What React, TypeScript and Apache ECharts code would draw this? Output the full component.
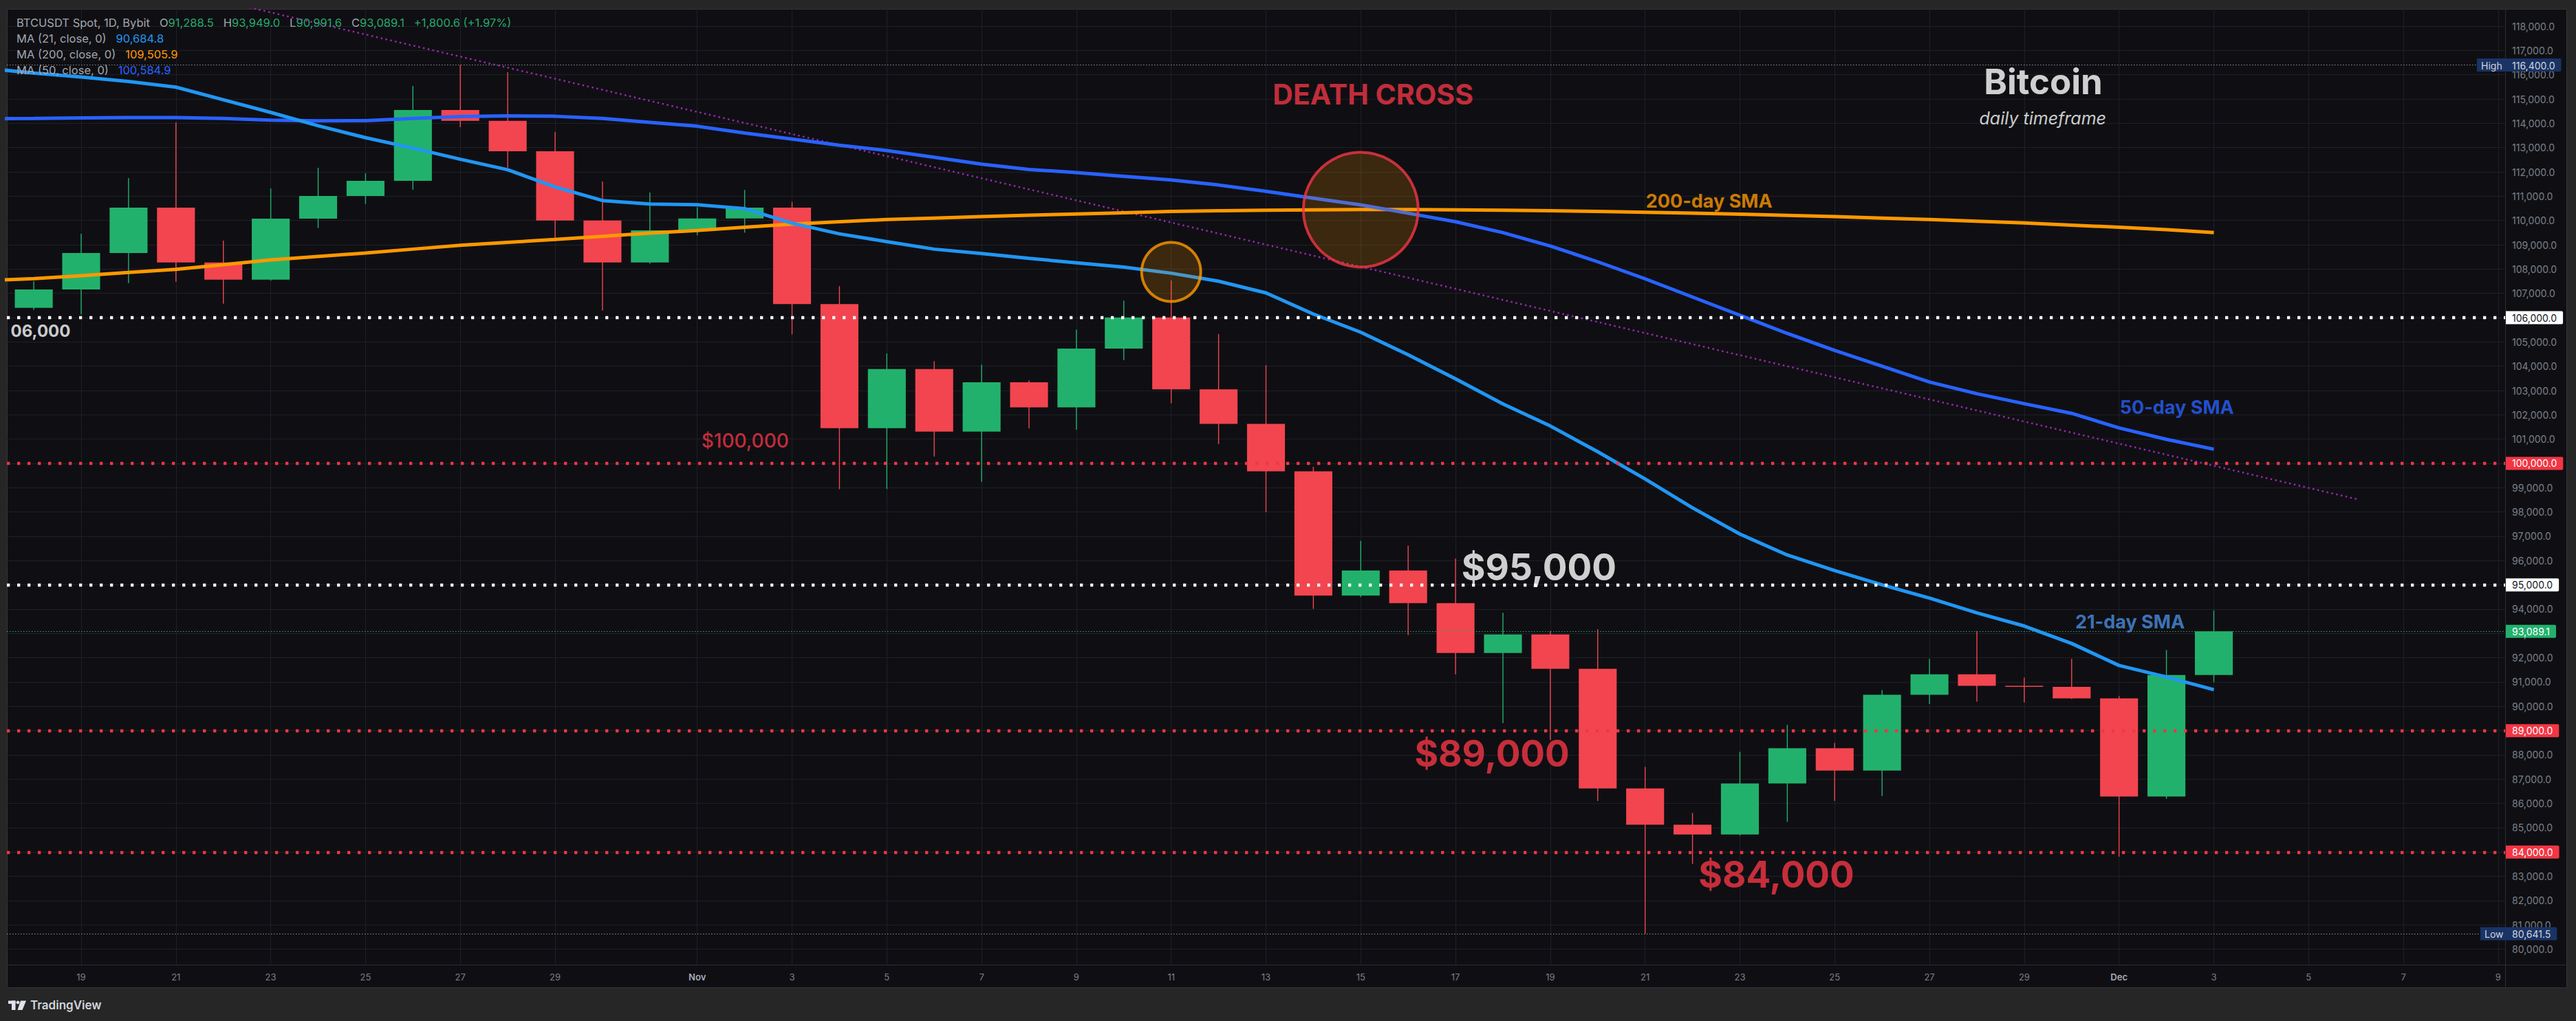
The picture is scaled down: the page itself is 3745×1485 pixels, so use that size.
import React, { useEffect, useRef } from 'react';
import * as echarts from 'echarts';

// ---------- data ----------
const dates = [
  'Oct 18', 'Oct 19', 'Oct 20', 'Oct 21', 'Oct 22', 'Oct 23', 'Oct 24', 'Oct 25', 'Oct 26', 'Oct 27',
  'Oct 28', 'Oct 29', 'Oct 30', 'Oct 31', 'Nov 1', 'Nov 2', 'Nov 3', 'Nov 4', 'Nov 5', 'Nov 6',
  'Nov 7', 'Nov 8', 'Nov 9', 'Nov 10', 'Nov 11', 'Nov 12', 'Nov 13', 'Nov 14', 'Nov 15', 'Nov 16',
  'Nov 17', 'Nov 18', 'Nov 19', 'Nov 20', 'Nov 21', 'Nov 22', 'Nov 23', 'Nov 24', 'Nov 25', 'Nov 26',
  'Nov 27', 'Nov 28', 'Nov 29', 'Nov 30', 'Dec 1', 'Dec 2', 'Dec 3',
];
const opens = [
  106405, 107160, 108660, 110528, 108273, 107566, 110075, 111009, 111631, 114546,
  114102, 112848, 109999, 108273, 109594, 110084, 110529, 106560, 101453, 103882,
  101312, 103340, 102310, 104728, 106007, 103047, 101626, 99675, 94558, 95594,
  94248, 92193, 92961, 91542, 86618, 85124, 84725, 86825, 88274, 87357,
  90477, 91320, 90844, 90803, 90330, 86286, 91288.5,
];
const closes = [
  107160, 108660, 110528, 108273, 107566, 110075, 111009, 111631, 114546, 114102,
  112848, 109999, 108273, 109594, 110084, 110529, 106560, 101453, 103882, 101312,
  103340, 102310, 104728, 106007, 103047, 101626, 99675, 94558, 95594, 94248,
  92193, 92961, 91542, 86618, 85124, 84725, 86825, 88274, 87357, 90477,
  91320, 90844, 90803, 90330, 86286, 91288.5, 93089.1,
];
const lows = [
  106320, 106132, 107424, 107481, 106575, 107519, 109688, 110678, 111263, 113839,
  112169, 109141, 106291, 108220, 109390, 109499, 105313, 98937, 98948, 100282,
  99241, 101442, 101388, 104250, 102472, 100792, 97994, 94011, 94500, 92932,
  91320, 89309, 88614, 86100, 80641.5, 83512, 84680, 85243, 86100, 86307,
  90093, 90194, 90154, 90300, 83811, 86191, 90991.6,
];
const highs = [
  107500, 109452, 111745, 114037, 109169, 111320, 112169, 111943, 115537, 116400,
  116103, 113641, 111603, 111150, 110550, 111255, 110767, 107297, 104532, 104207,
  104066, 103416, 105508, 106701, 107536, 105324, 104044, 99860, 96806, 96614,
  96081, 93849, 93100, 93168, 87505, 85612, 88126, 89235, 88496, 90669,
  91956, 93102, 91182, 91953, 90424, 92318, 93949.0,
];

// moving averages, Oct 17 .. Dec 3 (one day before the first candle)
const maDates = ['Oct 17', ...dates];
const ma21 = [
  116260, 116070, 115910, 115720, 115490, 114970, 114450, 113900, 113410, 112980,
  112520, 112090, 111380, 110820, 110680, 110650, 110490, 109890, 109450, 109130,
  108820, 108640, 108440, 108260, 108080, 107830, 107500, 107020, 106150, 105400,
  104470, 103480, 102450, 101540, 100480, 99360, 98170, 97090, 96230, 95590,
  95000, 94455, 93846, 93305, 92588, 91682, 91209, 90684.8,
];
const ma50 = [
  114190, 114200, 114220, 114240, 114240, 114200, 114130, 114100, 114110, 114200,
  114280, 114310, 114290, 114200, 114040, 113880, 113600, 113350, 113100, 112880,
  112600, 112320, 112100, 111970, 111820, 111670, 111460, 111200, 110920, 110640,
  110300, 109950, 109500, 108950, 108300, 107600, 106850, 106100, 105350, 104650,
  104000, 103350, 102870, 102460, 102060, 101460, 100990, 100584.9,
];
const ma200 = [
  107520, 107610, 107730, 107860, 107990, 108180, 108380, 108520, 108660, 108820,
  108980, 109100, 109220, 109350, 109480, 109590, 109720, 109850, 109950, 110040,
  110100, 110160, 110220, 110270, 110320, 110370, 110400, 110420, 110440, 110450,
  110450, 110440, 110420, 110400, 110370, 110340, 110300, 110260, 110210, 110160,
  110100, 110040, 109970, 109900, 109810, 109720, 109620, 109505.9,
];

// falling trend line (day index, price)
const trendDays = [0, 49.02];
const trendPrices = [120843, 98528];

// horizontal levels
const whiteLevels = [106000, 95000];
const redLevels = [100000, 89000, 84000];

// highlighted spots (day index, price)
const crossSpots = [
  [24, 107884],
  [28, 110443],
];

// axis ticks
const xTickDays = [1, 3, 5, 7, 9, 11, 14, 16, 18, 20, 22, 24, 26, 28, 30, 32, 34, 36, 38, 40, 42, 44, 46, 48, 50, 52];
const xTickLabels = ['19', '21', '23', '25', '27', '29', 'Nov', '3', '5', '7', '9', '11', '13', '15', '17', '19', '21', '23', '25', '27', '29', 'Dec', '3', '5', '7', '9'];
const yTicks = [
  80000, 81000, 82000, 83000, 84000, 85000, 86000, 87000, 88000, 89000,
  90000, 91000, 92000, 93000, 94000, 95000, 96000, 97000, 98000, 99000,
  100000, 101000, 102000, 103000, 104000, 105000, 106000, 107000, 108000, 109000,
  110000, 111000, 112000, 113000, 114000, 115000, 116000, 117000, 118000,
];

// text annotations (placed in data units)
const annotations = [
  { text: 'DEATH CROSS', at: [28.26, 115197], size: 41, weight: 'bold', color: '#f23645', italic: false },
  { text: 'Bitcoin', at: [42.4, 115735], size: 51, weight: 'bold', color: '#ffffff', italic: false },
  { text: 'daily timeframe', at: [42.39, 114221], size: 25, weight: 'normal', color: '#ffffff', italic: true },
  { text: '200-day SMA', at: [35.35, 110797], size: 27, weight: 'bold', color: '#ff9800', italic: false },
  { text: '50-day SMA', at: [45.22, 102320], size: 27, weight: 'bold', color: '#2962ff', italic: false },
  { text: '21-day SMA', at: [44.23, 93463], size: 27, weight: 'bold', color: '#4a90e2', italic: false },
  { text: '$100,000', at: [15.01, 100934], size: 28, weight: 500, color: '#f23645', italic: false },
  { text: '$95,000', at: [31.76, 95727], size: 53, weight: 'bold', color: '#ffffff', italic: false },
  { text: '$89,000', at: [30.77, 88069], size: 53, weight: 'bold', color: '#f23645', italic: false },
  { text: '$84,000', at: [36.77, 83077], size: 53, weight: 'bold', color: '#f23645', italic: false },
  { text: '06,000', at: [0.144, 105442], size: 24, weight: 'bold', color: '#ffffff', italic: false },
];

// ---------- styles ----------
const FONT = 'Inter, Roboto, sans-serif';
const GREEN = '#22b16c';
const RED = '#f2454f';
const BG = '#0f0f13';
const FRAME = '#262626';
const GRID = '#1e2027';
const SEP = '#2b2d34';

const fmt1 = (v: number) => v.toLocaleString('en-US', { minimumFractionDigits: 1, maximumFractionDigits: 1 });

const tagLabel = (text: string, bg: string, fg: string, distance = 1, rich?: any) => ({
  show: true,
  position: 'end',
  distance,
  formatter: () => text,
  backgroundColor: bg,
  color: fg,
  fontFamily: FONT,
  fontSize: 14,
  lineHeight: 14,
  padding: [3, 9, 2, 9],
  borderRadius: [0, 2, 2, 0],
  ...(rich ? { rich } : {}),
});

const thickDots = (color: string) => ({ color, width: 4.3, type: [4.3, 10.7], opacity: 1 });
const thinDots = (color: string) => ({ color, width: 1, type: [1.5, 2.5], opacity: 1 });

function buildOption() {
  const last = closes.length - 1;
  const prevClose = closes[last - 1];
  const change = closes[last] - prevClose;
  const pct = (change / prevClose) * 100;
  const sign = change >= 0 ? '+' : '-';
  const hi = Math.max(...highs);
  const lo = Math.min(...lows);

  const S = '   ';
  const legendText = [
    `{g|BTCUSDT Spot, 1D, Bybit}${S}{g|O}{v|${fmt1(opens[last])}}${S}{g|H}{v|${fmt1(highs[last])}}${S}{g|L}{v|${fmt1(lows[last])}}${S}{g|C}{v|${fmt1(closes[last])}}${S}{v|${sign}${fmt1(Math.abs(change))} (${sign}${Math.abs(pct).toFixed(2)}%)}`,
    `{g|MA (21, close, 0)}${S}{b21|${fmt1(ma21[ma21.length - 1])}}`,
    `{g|MA (200, close, 0)}${S}{b200|${fmt1(ma200[ma200.length - 1])}}`,
    `{g|MA (50, close, 0)}${S}{b50|${fmt1(ma50[ma50.length - 1])}}`,
  ].join('\n');
  const legendBase = { fontFamily: FONT, fontSize: 16.5, lineHeight: 23, fontWeight: 'normal' };

  const markData: any[] = [
    ...whiteLevels.map((v) => ({ yAxis: v, lineStyle: thickDots('#ffffff'), label: tagLabel(fmt1(v), '#ffffff', '#131722') })),
    ...redLevels.map((v) => ({ yAxis: v, lineStyle: thickDots('#f23645'), label: tagLabel(fmt1(v), '#f23645', '#ffffff') })),
    {
      yAxis: hi,
      lineStyle: thinDots('#8f929b'),
      label: {
        ...tagLabel('', '#1a3366', '#d1d4dc', -41),
        padding: [3, 9, 2, 6],
        formatter: () => `{h|High}{p|${fmt1(hi)}}`,
        rich: {
          h: { width: 45, color: '#d1d4dc', fontFamily: FONT, fontSize: 14 },
          p: { color: '#d1d4dc', fontFamily: FONT, fontSize: 14 },
        },
      },
    },
    {
      yAxis: lo,
      lineStyle: thinDots('#8f929b'),
      label: {
        ...tagLabel('', '#1a3366', '#d1d4dc', -36),
        padding: [3, 9, 2, 6],
        formatter: () => `{h|Low}{p|${fmt1(lo)}}`,
        rich: {
          h: { width: 40, color: '#d1d4dc', fontFamily: FONT, fontSize: 14 },
          p: { color: '#d1d4dc', fontFamily: FONT, fontSize: 14 },
        },
      },
    },
    { yAxis: closes[last], lineStyle: thinDots(GREEN), label: tagLabel(fmt1(closes[last]), GREEN, '#ffffff') },
    { yAxis: ma21[ma21.length - 1], lineStyle: { opacity: 0 }, label: tagLabel(fmt1(ma21[ma21.length - 1]), '#2196f3', '#ffffff') },
    { yAxis: ma50[ma50.length - 1], lineStyle: { opacity: 0 }, label: tagLabel(fmt1(ma50[ma50.length - 1]), '#2962ff', '#ffffff') },
    { yAxis: ma200[ma200.length - 1], lineStyle: { opacity: 0 }, label: tagLabel(fmt1(ma200[ma200.length - 1]), '#ff9800', '#131722') },
  ];

  const candleData = dates.map((_, i) => [i, opens[i], closes[i], lows[i], highs[i]]);
  const maSeries = (name: string, values: number[], color: string) => ({
    name,
    type: 'line',
    data: maDates.map((_, i) => [i - 1, values[i]]),
    showSymbol: false,
    symbol: 'none',
    lineStyle: { color, width: 5 },
    z: 3,
    silent: true,
    emphasis: { disabled: true },
  });

  const circleStyles = [
    { size: 86, border: '#ff9800' },
    { size: 167, border: '#f23645' },
  ];

  return {
    animation: false,
    backgroundColor: BG,
    textStyle: { fontFamily: FONT },
    title: {
      left: 24,
      top: 21.5,
      padding: 0,
      text: legendText,
      textStyle: {
        ...legendBase,
        color: '#a3a6af',
        rich: {
          g: { ...legendBase, color: '#a3a6af' },
          v: { ...legendBase, color: '#26a96c' },
          b21: { ...legendBase, color: '#2196f3' },
          b200: { ...legendBase, color: '#ff9800' },
          b50: { ...legendBase, color: '#2962ff' },
        },
      },
    },
    grid: {
      left: 10,
      top: 13,
      right: 103,
      bottom: 82,
      show: false,
      outerBoundsMode: 'none',
    },
    xAxis: {
      type: 'value',
      min: -0.5675,
      max: 52.147,
      axisLine: { show: false },
      axisTick: { show: false, customValues: xTickDays },
      splitLine: { show: true, lineStyle: { color: GRID, width: 1 } },
      axisLabel: {
        customValues: xTickDays,
        margin: 11,
        color: '#7c7f88',
        fontFamily: FONT,
        fontSize: 13,
        formatter: (v: number) => {
          const idx = xTickDays.indexOf(Math.round(v));
          const t = idx >= 0 ? xTickLabels[idx] : '';
          return t === 'Nov' || t === 'Dec' ? `{m|${t}}` : t;
        },
        rich: { m: { color: '#a9acb5', fontWeight: 600, fontSize: 13, fontFamily: FONT } },
      },
    },
    yAxis: {
      type: 'value',
      position: 'right',
      min: 79366,
      max: 118709,
      axisLine: { show: false },
      axisTick: { show: false, customValues: yTicks },
      splitLine: { show: true, lineStyle: { color: GRID, width: 1 } },
      axisLabel: {
        customValues: yTicks,
        margin: 10,
        color: '#7c7f88',
        fontFamily: FONT,
        fontSize: 14,
        formatter: (v: number) => fmt1(v),
      },
    },
    series: [
      {
        name: 'levels',
        type: 'line',
        data: [],
        z: 1,
        clip: false,
        silent: true,
        markLine: {
          silent: true,
          symbol: ['none', 'none'],
          animation: false,
          emphasis: { disabled: true },
          data: markData,
        },
      },
      {
        name: 'trend',
        type: 'line',
        data: trendDays.map((d, i) => [d, trendPrices[i]]),
        showSymbol: false,
        symbol: 'none',
        lineStyle: { color: '#9c27b0', width: 2.5, type: [2.5, 4.5] },
        z: 1,
        silent: true,
      },
      {
        name: 'BTCUSDT',
        type: 'custom',
        data: candleData,
        encode: { x: 0, y: [1, 2, 3, 4] },
        z: 2,
        silent: true,
        renderItem: (params: any, api: any) => {
          const x = api.value(0);
          const o = api.value(1);
          const c = api.value(2);
          const l = api.value(3);
          const h = api.value(4);
          const pO = api.coord([x, o]);
          const pC = api.coord([x, c]);
          const pL = api.coord([x, l]);
          const pH = api.coord([x, h]);
          const w = api.size([1, 0])[0] * 0.8;
          const color = c >= o ? GREEN : RED;
          const top = Math.min(pO[1], pC[1]);
          const bh = Math.max(Math.abs(pO[1] - pC[1]), 1.6);
          return {
            type: 'group',
            children: [
              { type: 'line', shape: { x1: pH[0], y1: pH[1], x2: pL[0], y2: pL[1] }, style: { stroke: color, lineWidth: 1.4 } },
              { type: 'rect', shape: { x: pO[0] - w / 2, y: top, width: w, height: bh }, style: { fill: color } },
            ],
          };
        },
      },
      maSeries('MA 200', ma200, '#ff9800'),
      maSeries('MA 50', ma50, '#2962ff'),
      maSeries('MA 21', ma21, '#2196f3'),
      {
        name: 'cross',
        type: 'scatter',
        z: 4,
        silent: true,
        emphasis: { disabled: true },
        data: crossSpots.map((p, i) => ({
          value: p,
          symbolSize: circleStyles[i].size,
          itemStyle: { color: 'rgba(255,152,0,0.23)', borderColor: circleStyles[i].border, borderWidth: 4 },
        })),
      },
      {
        name: 'notes',
        type: 'scatter',
        z: 6,
        silent: true,
        clip: false,
        symbolSize: 1,
        emphasis: { disabled: true },
        itemStyle: { color: 'rgba(0,0,0,0)' },
        data: annotations.map((a) => ({
          value: a.at,
          label: {
            show: true,
            position: 'inside',
            formatter: () => a.text,
            color: a.color,
            fontFamily: FONT,
            fontSize: a.size,
            fontWeight: a.weight,
            fontStyle: a.italic ? 'italic' : 'normal',
            align: 'center',
            verticalAlign: 'middle',
          },
        })),
      },
    ],
    graphic: {
      elements: [
        { type: 'rect', shape: { x: 0, y: 0, width: 3745, height: 13 }, style: { fill: FRAME }, silent: true },
        { type: 'rect', shape: { x: 0, y: 0, width: 10, height: 1485 }, style: { fill: FRAME }, silent: true },
        { type: 'rect', shape: { x: 3732, y: 0, width: 13, height: 1485 }, style: { fill: FRAME }, silent: true },
        { type: 'rect', shape: { x: 0, y: 1437, width: 3745, height: 48 }, style: { fill: FRAME }, silent: true },
        { type: 'rect', shape: { x: 10.5, y: 13.5, width: 3721, height: 1423 }, style: { fill: 'none', stroke: '#333338', lineWidth: 1 }, silent: true },
        { type: 'line', shape: { x1: 3642.5, y1: 13, x2: 3642.5, y2: 1437 }, style: { stroke: SEP, lineWidth: 1 }, silent: true },
        { type: 'line', shape: { x1: 10, y1: 1403.5, x2: 3732, y2: 1403.5 }, style: { stroke: SEP, lineWidth: 1 }, silent: true },
        // TradingView mark
        { type: 'rect', shape: { x: 12, y: 1455.5, width: 10.5, height: 4.5 }, style: { fill: '#e0e3eb' }, silent: true },
        { type: 'rect', shape: { x: 17, y: 1455.5, width: 5.5, height: 13.5 }, style: { fill: '#e0e3eb' }, silent: true },
        { type: 'circle', shape: { cx: 26, cy: 1458, r: 2.4 }, style: { fill: '#e0e3eb' }, silent: true },
        { type: 'polygon', shape: { points: [[30, 1455.5], [38, 1455.5], [32.5, 1469], [25.5, 1469]] }, style: { fill: '#e0e3eb' }, silent: true },
        {
          type: 'text',
          x: 44,
          y: 1462,
          silent: true,
          style: { text: 'TradingView', fill: '#d1d4dc', font: `600 17px ${FONT}`, verticalAlign: 'middle', textVerticalAlign: 'middle' },
        },
      ],
    },
  };
}

export default function App() {
  const ref = useRef<HTMLDivElement>(null);
  useEffect(() => {
    document.body.style.margin = '0';
    const chart = echarts.init(ref.current as HTMLDivElement, null, { renderer: 'svg' });
    chart.setOption(buildOption() as any);
    return () => chart.dispose();
  }, []);
  return <div ref={ref} style={{ width: 3745, height: 1485 }} />;
}
